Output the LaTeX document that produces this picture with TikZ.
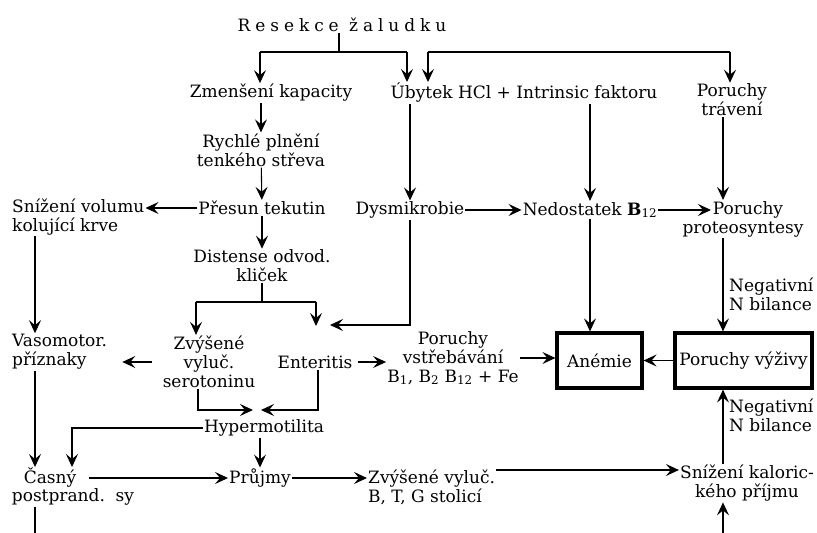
\documentclass[tikz,border=0pt]{standalone}
\usepackage{fontspec}
\setmainfont{DejaVu Serif}
\usetikzlibrary{arrows.meta,calc}
\tikzset{
  txt/.style={font=\fontsize{17}{19}\selectfont, align=center, inner sep=1pt},
  ln/.style={line width=1.1pt},
  arr/.style={line width=1.1pt, -{Stealth[length=13pt,width=12pt,inset=5pt]}},
  thickbox/.style={draw, line width=3.2pt, inner sep=2pt, font=\fontsize{17}{19}\selectfont}
}
\begin{document}
\begin{tikzpicture}[x=1pt,y=-1pt]
\useasboundingbox (0,0) rectangle (817,533);
% nodes
\node[txt] (res) at (342,25) {\addfontfeature{LetterSpace=29}Resekce žaludku};
\node[txt] (zmen) at (271,93) {Zmenšení kapacity};
\node[txt] (uby) at (524,93) {Úbytek HCl + Intrinsic faktoru};
\node[txt] (trav) at (732,100) {Poruchy\\trávení};
\node[txt] (rych) at (261,150) {Rychlé plnění\\tenkého střeva};
\node[txt] (pres) at (262,208) {Přesun tekutin};
\node[txt, align=left, anchor=west] (sniz) at (11,217) {Snížení volumu\\kolující krve};
\node[txt] (dist) at (262,266) {Distense odvod.\\kliček};
\node[txt] (dys) at (410,210) {Dysmikrobie};
\node[txt] (ned) at (590,210) {Nedostatek \textbf{B}\textsubscript{12}};
\node[txt] (prot) at (743,219) {\hspace*{10pt}Poruchy\\proteosyntesy};
\node[txt, align=left, anchor=west] (neg1) at (728,294) {Negativní\\N bilance};
\node[thickbox, minimum width=85pt, minimum height=55pt] (anem) at (599.5,360.5) {Anémie};
\node[thickbox, minimum width=137pt, minimum height=55pt] (vyz) at (743.5,360.5) {Poruchy výživy};
\node[txt] (vst) at (453,358) {Poruchy\\vstřebávání\\B\textsubscript{1}, B\textsubscript{2} B\textsubscript{12} + Fe};
\node[txt] (sero) at (209,362) {Zvýšené\\vyluč.\\serotoninu};
\node[txt] (ent) at (315,362) {Enteritis};
\node[txt, align=left, anchor=west] (vaso) at (11,352) {Vasomotor.\\příznaky};
\node[txt] (hyp) at (264,428) {Hypermotilita};
\node[txt] (cas1) at (50,478) {Časný};
\node[txt] (cas2) at (73,497) {postprand.~~sy};
\node[txt] (pruj) at (260,478) {Průjmy};
\node[txt, align=left, anchor=west] (stol) at (367,487) {Zvýšené vyluč.\\B, T, G stolicí};
\node[txt] (kal) at (747,483) {Snížení kaloric-\\kého příjmu};
\node[txt, align=left, anchor=west] (neg2) at (728,415) {Negativní\\N bilance};
% junction coordinates
\coordinate (t0) at (339,52);
\coordinate (a1) at (260,52);
\coordinate (a2) at (407,52);
\coordinate (b1) at (428,52);
\coordinate (b2) at (730,52);
\coordinate (v1) at (723,300);
\coordinate (v35) at (35,300);
\coordinate (v72) at (72,300);
\coordinate (d0) at (262,302);
\coordinate (d1) at (196,302);
\coordinate (d2) at (316,302);
\coordinate (e1) at (330,325);
\coordinate (e2) at (316,326);
\coordinate (s1) at (198,300);
\coordinate (s2) at (318,300);
\coordinate (h1) at (253,410);
\coordinate (h2) at (261,410);
\coordinate (k470) at (600,470);
\coordinate (bot) at (723,533);
\coordinate (botl) at (35,533);
\coordinate (ptip) at (711,210);
% connectors
\draw[ln] (t0 |- res.south) -- (t0);
\draw[ln] (a1) -- (a2);
\draw[arr] (a1) -- (a1 |- zmen.north);
\draw[arr] (a2) -- (a2 |- uby.north);
\draw[ln] (b1) -- (b2);
\draw[arr] (b1) -- (b1 |- uby.north);
\draw[arr] (b2) -- (b2 |- trav.north);
\draw[arr] (zmen.south -| rych.north) -- (rych.north);
\draw[arr] (rych) -- (pres);
\draw[arr] (pres.west) -- (sniz.east |- pres.west);
\draw[arr] (pres) -- (dist);
\draw[arr] (uby.south -| dys.north) -- (dys.north);
\draw[arr] (uby.south -| ned.north) -- (ned.north);
\draw[arr] (trav.south -| v1) -- (v1 |- prot.north);
\draw[arr] (dys.east) -- (ned.west);
\draw[arr] (ned.east) -- (ptip);
\draw[arr] (dys.south) |- (e1);
\draw[arr] (ned.south) -- (ned.south |- anem.north);
\draw[arr] (prot.south -| v1) -- (v1 |- vyz.north);
\draw[arr] (vyz.west) -- (anem.east);
\draw[arr] (vst.east) -- (anem.west |- vst.east);
\draw[arr, shorten <=4pt] (ent.east) -- (vst.west |- ent.east);
\draw[ln] (dist.south) -- (d0);
\draw[ln] (d1) -- (d2);
\draw[arr] (d1) -- (d1 |- sero.north);
\draw[arr] (d2) -- (e2);
\draw[arr, shorten <=10pt, shorten >=14pt] (sero.west) -- (vaso.east |- sero.west);
\draw[arr] (sniz.south -| v35) -- (v35 |- vaso.north);
\draw[arr] (vaso.south -| v35) -- (v35 |- cas1.north);
\draw[arr] (sero.south -| s1) |- (h1);
\draw[arr] (ent.south -| s2) |- (h2);
\draw[arr] (hyp.west) -| (v72 |- cas1.north);
\draw[arr] (hyp.south -| pruj.north) -- (pruj.north);
\draw[arr] ([xshift=12pt]cas1.east) -- (pruj.west);
\draw[arr] (pruj.east) -- (stol.west |- pruj.east);
\draw[arr] (stol.east |- k470) -- (kal.west |- k470);
\draw[arr] (kal.north -| v1) -- (v1 |- vyz.south);
\draw[arr] (bot) -- (bot |- kal.south);
\draw[ln] (cas2.south -| v35) -- (botl);
\end{tikzpicture}
\end{document}
